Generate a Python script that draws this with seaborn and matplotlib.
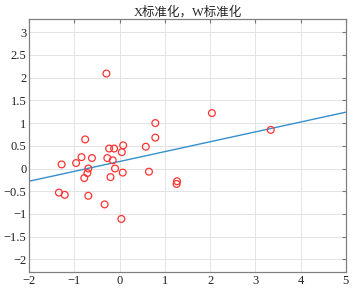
import matplotlib
matplotlib.use('Agg')
import matplotlib.pyplot as plt
import seaborn as sns
import numpy as np
import pandas as pd

# datos
x_pts = [2.04, 3.34, 0.79, 0.79, 0.58, 0.65, 1.27, 1.26, 0.08, 0.05, 0.07,
         -0.10, -0.12, -0.23, -0.15, -0.27, -0.20, -0.76, -0.61, -0.84, -0.96,
         -1.28, -0.69, -0.71, -0.78, -1.34, -1.21, -0.69, -0.29, -0.33, 0.04]
y_pts = [1.22, 0.85, 1.00, 0.68, 0.48, -0.07, -0.28, -0.34, 0.51, 0.36, -0.09,
         0.00, 0.44, 0.44, 0.18, 0.23, -0.19, 0.64, 0.23, 0.25, 0.12,
         0.09, 0.00, -0.10, -0.21, -0.53, -0.58, -0.60, 2.09, -0.79, -1.11]
linea_x = [-2, 5]
linea_y = [-0.28, 1.24]
titulo = 'X标准化，W标准化'

sns.set_style('white')
plt.rcParams['font.family'] = ['Liberation Serif', 'Noto Sans CJK SC']
plt.rcParams['axes.unicode_minus'] = True

fig = plt.figure(figsize=(3.54, 2.91), dpi=100)
ax = fig.add_axes([0.082, 0.065, 0.895, 0.868])

df = pd.DataFrame({'x': x_pts, 'y': y_pts})
sns.scatterplot(data=df, x='x', y='y', ax=ax, marker='o', s=24,
                facecolor='none', edgecolor='#ff3333', linewidth=0.9, zorder=3)
sns.lineplot(x=linea_x, y=linea_y, ax=ax, color='#3590cc', linewidth=1.0, zorder=2)

ax.set_xlim(-2, 5)
ax.set_ylim(-2.28, 3.28)
ax.set_xticks(np.arange(-2, 6, 1))
ax.set_yticks(np.arange(-2, 3.01, 0.5))
ax.set_yticklabels(['−2', '−1.5', '−1', '−0.5', '0', '0.5', '1', '1.5', '2', '2.5', '3'])
ax.set_xticklabels(['−2', '−1', '0', '1', '2', '3', '4', '5'])
ax.grid(True, color='#e3e3e3', linewidth=0.7)
ax.set_axisbelow(True)
ax.tick_params(direction='in', length=3, labelsize=9, colors='#222222', pad=2,
               top=True, right=True, color='#777777')
for s in ax.spines.values():
    s.set_color('#808080')
    s.set_linewidth(0.9)
ax.set_xlabel('')
ax.set_ylabel('')
ax.set_title(titulo, fontsize=9, pad=3)

plt.savefig('out.png', dpi=100)
